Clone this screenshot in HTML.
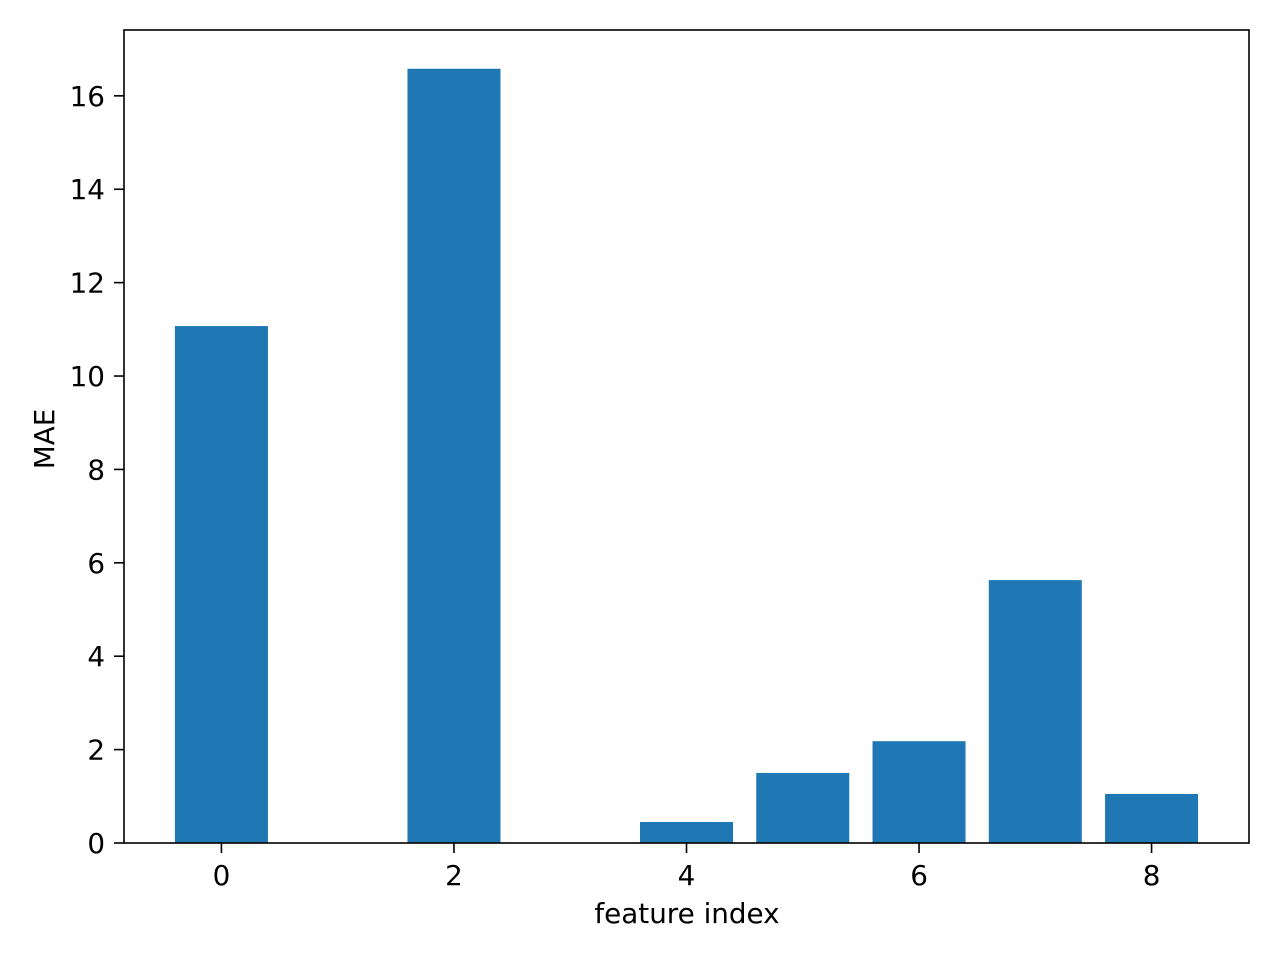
<!DOCTYPE html>
<html><head><meta charset="utf-8"><style>
html,body{margin:0;padding:0;background:#fff;}
svg text{font-family:"DejaVu Sans","Liberation Sans",sans-serif;font-size:27.8px;fill:#000;}
</style></head><body>
<svg id="chart" width="1280" height="960" xmlns="http://www.w3.org/2000/svg">
<rect width="1280" height="960" fill="#fff"/>
<g id="bars"></g>
<g id="xticks"></g>
<g id="yticks"></g>
<rect x="124" y="30" width="1125" height="813" fill="none" stroke="#000" stroke-width="1.6"/>
<text x="687" y="923" text-anchor="middle">feature index</text>
<text x="54" y="439" text-anchor="middle" transform="rotate(-90 54 439)">MAE</text>
</svg>
<script>
const categories = [0,1,2,3,4,5,6,7,8];
const values = [11.07,0,16.58,0,0.45,1.50,2.18,5.63,1.05];
const xTicks = [0,2,4,6,8];
const yTicks = [0,2,4,6,8,10,12,14,16];

const L=124,R=1249,T=30,B=843;
const xMin=-0.838,xMax=8.838,yMin=0,yMax=17.41;
const xs=v=>L+(v-xMin)/(xMax-xMin)*(R-L);
const ys=v=>B-(v-yMin)/(yMax-yMin)*(B-T);
const NS="http://www.w3.org/2000/svg";
const bars=document.getElementById('bars');
categories.forEach((c,i)=>{
  const r=document.createElementNS(NS,'rect');
  const x0=xs(c-0.4),x1=xs(c+0.4);
  r.setAttribute('x',x0);r.setAttribute('width',x1-x0);
  r.setAttribute('y',ys(values[i]));r.setAttribute('height',ys(0)-ys(values[i]));
  r.setAttribute('fill','#1f77b4');
  
  
  bars.appendChild(r);
});
const xg=document.getElementById('xticks');
xTicks.forEach(t=>{
  const x=xs(t);
  const l=document.createElementNS(NS,'line');
  l.setAttribute('x1',x);l.setAttribute('x2',x);l.setAttribute('y1',B);l.setAttribute('y2',B+10);
  l.setAttribute('stroke','#000');l.setAttribute('stroke-width','1.6');
  
  
  xg.appendChild(l);
  const tx=document.createElementNS(NS,'text');
  tx.setAttribute('x',x);tx.setAttribute('y',B+42);tx.setAttribute('text-anchor','middle');
  tx.textContent=t;
  
  
  xg.appendChild(tx);
});
const yg=document.getElementById('yticks');
yTicks.forEach(t=>{
  const y=ys(t);
  const l=document.createElementNS(NS,'line');
  l.setAttribute('x1',L-10);l.setAttribute('x2',L);l.setAttribute('y1',y);l.setAttribute('y2',y);
  l.setAttribute('stroke','#000');l.setAttribute('stroke-width','1.6');
  
  
  yg.appendChild(l);
  const tx=document.createElementNS(NS,'text');
  tx.setAttribute('x',L-19);tx.setAttribute('y',y+10);tx.setAttribute('text-anchor','end');
  tx.textContent=t;
  
  
  yg.appendChild(tx);
});
</script>
</body></html>
